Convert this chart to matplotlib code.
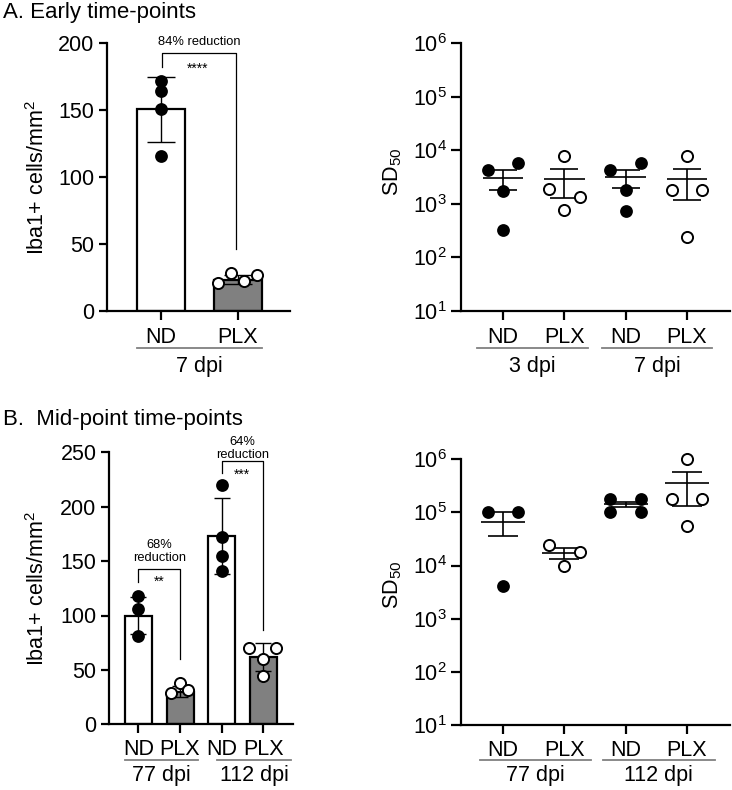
import numpy as np
import matplotlib
matplotlib.use("Agg")
import matplotlib.pyplot as plt
from matplotlib.ticker import NullLocator, FixedLocator, LogFormatterSciNotation
from matplotlib.transforms import blended_transform_factory

plt.rcParams['font.family'] = ['Liberation Sans', 'DejaVu Sans']
plt.rcParams['mathtext.fontset'] = 'custom'
plt.rcParams['mathtext.rm'] = 'Liberation Sans'
plt.rcParams['mathtext.it'] = 'Liberation Sans:italic'
plt.rcParams['mathtext.bf'] = 'Liberation Sans:bold'

# ---------------- data ----------------
# Panel A left: bar chart, 7 dpi
a_bar_cats = ['ND', 'PLX']
a_bar_means = [150.5, 23.5]
a_bar_sd = [24.5, 3.5]
a_nd_pts = [172, 164, 151, 116]
a_plx_pts = [20.7, 28, 22.7, 27]

# Panel A right: SD50, 3 dpi and 7 dpi
a_sc_cats = ['ND', 'PLX', 'ND', 'PLX']
a_sc_groups = ['3 dpi', '7 dpi']
a_nd3 = [4.2e3, 5.7e3, 1.75e3, 3.2e2]
a_plx3 = [7.7e3, 1.9e3, 1.35e3, 7.6e2]
a_nd7 = [4.25e3, 5.7e3, 1.8e3, 7.4e2]
a_plx7 = [7.7e3, 1.8e3, 1.8e3, 2.4e2]
a_sc_means = [2.98e3, 2.86e3, 3.1e3, 2.86e3]
a_sc_upper = [4.2e3, 4.4e3, 4.2e3, 4.4e3]
a_sc_lower = [1.8e3, 1.28e3, 2.0e3, 1.2e3]

# Panel B left: bar chart, 77 and 112 dpi
b_bar_cats = ['ND', 'PLX', 'ND', 'PLX']
b_bar_groups = ['77 dpi', '112 dpi']
b_bar_means = [100, 30, 173, 62]
b_bar_sd = [17, 5, 35, 13]
b_nd77_pts = [118, 106, 81]
b_plx77_pts = [29, 38, 31.5]
b_nd112_pts = [220, 172, 155, 141]
b_plx112_pts = [70, 70, 60, 44]

# Panel B right: SD50, 77 and 112 dpi
b_sc_cats = ['ND', 'PLX', 'ND', 'PLX']
b_sc_groups = ['77 dpi', '112 dpi']
b_nd77 = [1e5, 1e5, 4.1e3]
b_plx77 = [2.4e4, 1.77e4, 1.0e4]
b_nd112 = [1.77e5, 1.77e5, 1.0e5, 1.0e5]
b_plx112 = [1e6, 1.77e5, 1.77e5, 5.5e4]
b_sc_means = [6.7e4, 1.7e4, 1.4e5, 3.5e5]
b_sc_upper = [1e5, 2.1e4, 1.58e5, 5.7e5]
b_sc_lower = [3.6e4, 1.3e4, 1.24e5, 1.33e5]

# horizontal jitter (layout only)
j_a_bar_nd = [0, 0, 0, 0]
j_a_bar_plx = [-0.26, -0.09, 0.08, 0.25]
j_a_nd = [-0.25, 0.25, 0, 0]
j_a_plx = [0, -0.25, 0.25, 0]
j_b_bar_3 = [0, 0, 0]
j_b_bar_plx77 = [-0.22, 0, 0.2]
j_b_bar_4 = [0, 0, 0, 0]
j_b_bar_plx112 = [-0.33, 0.3, 0, 0]
j_b_nd77 = [-0.25, 0.25, 0]
j_b_plx77 = [-0.25, 0.25, 0]
j_b_nd112 = [-0.25, 0.25, -0.25, 0.25]
j_b_plx112 = [0, -0.25, 0.25, 0]

W, H = 732, 790
fig = plt.figure(figsize=(W / 100, H / 100), dpi=100)


def rect(x0, x1, ytop, ybot):
    return [x0 / W, 1 - ybot / H, (x1 - x0) / W, (ybot - ytop) / H]


def fy(py):
    return 1 - py / H


GRAY = '#808080'
TICK_FS = 15.5
LAB_FS = 15.5
NOTE_FS = 9.3


def style_axes(ax, ticklen_y=6, ticklen_x=6.5, xpad=5):
    for s in ['top', 'right']:
        ax.spines[s].set_visible(False)
    for s in ['left', 'bottom']:
        ax.spines[s].set_linewidth(1.6)
    ax.tick_params(axis='y', length=ticklen_y, width=1.6, labelsize=TICK_FS, pad=3)
    ax.tick_params(axis='x', length=ticklen_x, width=1.6, labelsize=TICK_FS, pad=xpad)


def pts(ax, x, vals, jit, filled, ms=8):
    xs = [x + j for j in jit]
    if filled:
        ax.plot(xs, vals, 'o', ms=ms, mfc='black', mec='black', mew=1.2, ls='none', zorder=5, clip_on=False)
    else:
        ax.plot(xs, vals, 'o', ms=ms, mfc='white', mec='black', mew=1.4, ls='none', zorder=5, clip_on=False)


def group_labels(ax, spans, labels, y_line, y_text):
    tr = blended_transform_factory(ax.transData, fig.transFigure)
    for (a, b), lab in zip(spans, labels):
        ax.plot([a, b], [fy(y_line), fy(y_line)], color=GRAY, lw=1.3, transform=tr, clip_on=False)
        ax.text((a + b) / 2, fy(y_text), lab, transform=tr, ha='center', va='top', fontsize=TICK_FS)


def bracket(ax, x1, x2, ytop, yl, yr, lw=0.9):
    ax.plot([x1, x1, x2, x2], [yl, ytop, ytop, yr], color='black', lw=lw, clip_on=False, zorder=6)


# ---------------- Panel A left ----------------
ax1 = fig.add_axes(rect(107, 290, 43, 311))
style_axes(ax1)
x = np.arange(len(a_bar_cats))
ax1.bar(x, a_bar_means, width=0.62, color=['white', GRAY], edgecolor='black', linewidth=1.6, zorder=2)
ax1.errorbar(x, a_bar_means, yerr=a_bar_sd, fmt='none', ecolor='black', elinewidth=1.0, capsize=10, capthick=1.0, zorder=3)
pts(ax1, x[0], a_nd_pts, j_a_bar_nd, True)
pts(ax1, x[1], a_plx_pts, j_a_bar_plx, False)
ax1.set_xlim(-0.70, 1.675)
ax1.set_ylim(0, 200)
ax1.set_yticks([0, 50, 100, 150, 200])
ax1.set_xticks(x)
ax1.set_xticklabels(a_bar_cats)
ax1.tick_params(axis='x', pad=5)
bracket(ax1, 0.01, 0.97, 192.5, 182, 46)
ax1.text(0.5, 201, '84% reduction', ha='center', va='center', fontsize=NOTE_FS, clip_on=False)
ax1.text(0.47, 181, '****', ha='center', va='center', fontsize=10)
group_labels(ax1, [(-0.31, 1.31)], ['7 dpi'], 348, 356)
fig.text(38 / W, fy(177), 'Iba1+ cells/mm$^2$', rotation=90, ha='center', va='center', fontsize=LAB_FS)

# ---------------- Panel A right ----------------
ax2 = fig.add_axes(rect(461, 730, 43, 311))
style_axes(ax2, ticklen_y=7, ticklen_x=6.5)
ax2.set_yscale('log')
ax2.set_ylim(10, 1e6)
ax2.yaxis.set_major_locator(FixedLocator([1e1, 1e2, 1e3, 1e4, 1e5, 1e6]))
ax2.yaxis.set_major_formatter(LogFormatterSciNotation())
ax2.yaxis.set_minor_locator(NullLocator())
xs = np.arange(len(a_sc_cats))
ax2.set_xlim(-0.685, 3.70)
ax2.set_xticks(xs)
ax2.set_xticklabels(a_sc_cats)
ax2.tick_params(axis='x', pad=5)
ax2.hlines(a_sc_means, xs - 0.33, xs + 0.33, color='black', lw=1.2, zorder=3)
yerr = [np.array(a_sc_means) - np.array(a_sc_lower), np.array(a_sc_upper) - np.array(a_sc_means)]
ax2.errorbar(xs, a_sc_means, yerr=yerr, fmt='none', ecolor='black', elinewidth=1.2, capsize=10, capthick=1.2, zorder=3)
pts(ax2, 0, a_nd3, j_a_nd, True)
pts(ax2, 1, a_plx3, j_a_plx, False)
pts(ax2, 2, a_nd7, j_a_nd, True)
pts(ax2, 3, a_plx7, j_a_plx, False)
group_labels(ax2, [(-0.43, 1.39), (1.62, 3.41)], a_sc_groups, 348, 356)
fig.text(393 / W, fy(172), 'SD$_{50}$', rotation=90, ha='center', va='center', fontsize=LAB_FS)

# ---------------- Panel B left ----------------
ax3 = fig.add_axes(rect(109, 293, 452.3, 724.3))
style_axes(ax3, xpad=4)
xb = np.arange(len(b_bar_cats))
ax3.bar(xb, b_bar_means, width=0.65, color=['white', GRAY, 'white', GRAY], edgecolor='black', linewidth=1.6, zorder=2)
ax3.errorbar(xb, b_bar_means, yerr=b_bar_sd, fmt='none', ecolor='black', elinewidth=1.0, capsize=6, capthick=1.0, zorder=3)
pts(ax3, 0, b_nd77_pts, j_b_bar_3, True)
pts(ax3, 1, b_plx77_pts, j_b_bar_plx77, False)
pts(ax3, 2, b_nd112_pts, j_b_bar_4, True)
pts(ax3, 3, b_plx112_pts, j_b_bar_plx112, False)
ax3.set_xlim(-0.71, 3.72)
ax3.set_ylim(0, 250)
ax3.set_yticks([0, 50, 100, 150, 200, 250])
ax3.set_xticks(xb)
ax3.set_xticklabels(b_bar_cats)
bracket(ax3, 0.0, 1.0, 142.8, 131, 60)
ax3.text(0.5, 159, '68%\nreduction', ha='center', va='center', fontsize=NOTE_FS, linespacing=1.1)
ax3.text(0.5, 131, '**', ha='center', va='center', fontsize=10)
bracket(ax3, 2.0, 3.0, 242, 230.7, 87)
ax3.text(2.5, 253.5, '64%\nreduction', ha='center', va='center', fontsize=NOTE_FS, linespacing=1.1, clip_on=False)
ax3.text(2.5, 229, '***', ha='center', va='center', fontsize=10)
group_labels(ax3, [(-0.33, 1.43), (1.89, 3.67)], b_bar_groups, 760, 765)
fig.text(38 / W, fy(588), 'Iba1+ cells/mm$^2$', rotation=90, ha='center', va='center', fontsize=LAB_FS)

# ---------------- Panel B right ----------------
ax4 = fig.add_axes(rect(461, 730, 459, 725.3))
style_axes(ax4, ticklen_y=7, ticklen_x=6.5, xpad=4)
ax4.set_yscale('log')
ax4.set_ylim(10, 1e6)
ax4.yaxis.set_major_locator(FixedLocator([1e1, 1e2, 1e3, 1e4, 1e5, 1e6]))
ax4.yaxis.set_major_formatter(LogFormatterSciNotation())
ax4.yaxis.set_minor_locator(NullLocator())
xs4 = np.arange(len(b_sc_cats))
ax4.set_xlim(-0.685, 3.70)
ax4.set_xticks(xs4)
ax4.set_xticklabels(b_sc_cats)
ax4.hlines(b_sc_means, xs4 - 0.36, xs4 + 0.36, color='black', lw=1.2, zorder=3)
yerr4 = [np.array(b_sc_means) - np.array(b_sc_lower), np.array(b_sc_upper) - np.array(b_sc_means)]
ax4.errorbar(xs4, b_sc_means, yerr=yerr4, fmt='none', ecolor='black', elinewidth=1.2, capsize=11, capthick=1.2, zorder=3)
pts(ax4, 0, b_nd77, j_b_nd77, True)
pts(ax4, 1, b_plx77, j_b_plx77, False)
pts(ax4, 2, b_nd112, j_b_nd112, True)
pts(ax4, 3, b_plx112, j_b_plx112, False)
group_labels(ax4, [(-0.37, 1.44), (1.63, 3.45)], b_sc_groups, 760, 765)
fig.text(393 / W, fy(585), 'SD$_{50}$', rotation=90, ha='center', va='center', fontsize=LAB_FS)

# titles
fig.text(3 / W, fy(2), 'A. Early time-points', ha='left', va='top', fontsize=16)
fig.text(3 / W, fy(409), 'B.  Mid-point time-points', ha='left', va='top', fontsize=16)

fig.savefig('out.png', dpi=100)
